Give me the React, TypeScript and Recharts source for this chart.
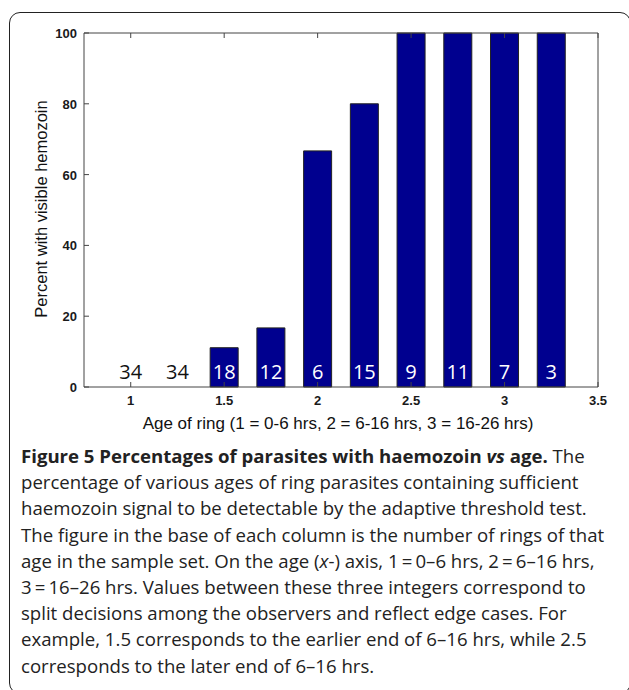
import React from "react";
import { ComposedChart, Bar, Line, XAxis, YAxis, LabelList } from "recharts";

const ages = [1, 1.25, 1.5, 1.75, 2, 2.25, 2.5, 2.75, 3, 3.25];
const percents = [0, 0, 11.1, 16.7, 66.7, 80, 100, 100, 100, 100];
const counts = [34, 34, 18, 12, 6, 15, 9, 11, 7, 3];
const xTicks = [1, 1.5, 2, 2.5, 3, 3.5];
const yTicks = [0, 20, 40, 60, 80, 100];

const data = ages.map((age, i) => ({ age, value: percents[i], n: counts[i] }));

const AXIS = "#444";
const BAR = "#00008f";
const TICK_FONT = { fontFamily: "'Liberation Sans', Arial, sans-serif", fontSize: 13, fontWeight: 700, fill: "#1a1a1a" };

const captionLines = [
  "percentage of various ages of ring parasites containing sufficient",
  "haemozoin signal to be detectable by the adaptive threshold test.",
  "The figure in the base of each column is the number of rings of that",
  null,
  "3\u2009=\u200916\u201326 hrs. Values between these three integers correspond to",
  "split decisions among the observers and reflect edge cases. For",
  "example, 1.5 corresponds to the earlier end of 6\u201316 hrs, while 2.5",
  "corresponds to the later end of 6\u201316 hrs.",
];

function BottomTick(props: any) {
  const { x, y, payload } = props;
  return (
    <g>
      <line x1={x} y1={y} x2={x} y2={y - 5} stroke={AXIS} />
      <text x={x} y={y + 18} textAnchor="middle" {...TICK_FONT}>
        {payload.value}
      </text>
    </g>
  );
}

function TopTick(props: any) {
  const { x, y } = props;
  return <line x1={x} y1={y} x2={x} y2={y + 5} stroke={AXIS} />;
}

function LeftTick(props: any) {
  const { x, y, payload } = props;
  return (
    <g>
      <line x1={x} y1={y} x2={x + 5} y2={y} stroke={AXIS} />
      <text x={x - 7} y={y + 5} textAnchor="end" {...TICK_FONT}>
        {payload.value}
      </text>
    </g>
  );
}

function RightTick(props: any) {
  const { x, y } = props;
  return <line x1={x} y1={y} x2={x - 5} y2={y} stroke={AXIS} />;
}

function CountLabel(props: any) {
  const { x, y, index, value } = props;
  const d = data[index];
  return (
    <text
      x={x}
      y={y - 8}
      textAnchor="middle"
      fontFamily="'Open Sans', sans-serif"
      fontSize={20}
      fill={d && d.value > 0 ? "#fff" : "#111"}
    >
      {value}
    </text>
  );
}

export default function App() {
  return (
    <div style={{ position: "absolute", left: 0, top: 0, width: 629, height: 690, background: "#fff", overflow: "hidden" }}>
      <div
        style={{
          position: "absolute",
          left: 9,
          top: 12,
          width: 622,
          height: 682,
          border: "1.5px solid #222",
          borderRadius: 11,
          boxSizing: "border-box",
        }}
      />
      <div style={{ position: "absolute", left: 0, top: 0 }}>
        <ComposedChart
          width={629}
          height={450}
          data={data}
          margin={{ top: 32, right: 30, left: 20, bottom: 13 }}
          barCategoryGap="20%"
        >
          <XAxis
            dataKey="age"
            type="number"
            domain={[0.75, 3.5]}
            ticks={xTicks}
            interval={0}
            height={50}
            tickSize={0}
            tickMargin={0}
            tickLine={false}
            axisLine={{ stroke: AXIS }}
            tick={<BottomTick />}
            allowDataOverflow
            label={() => (
              <text
                x={338}
                y={429}
                textAnchor="middle"
                fontFamily="'Liberation Sans', Arial, sans-serif"
                fontSize={17}
                fill="#111"
              >
                Age of ring (1 = 0-6 hrs, 2 = 6-16 hrs, 3 = 16-26 hrs)
              </text>
            )}
          />
          <XAxis
            xAxisId="top"
            orientation="top"
            dataKey="age"
            type="number"
            domain={[0.75, 3.5]}
            ticks={xTicks}
            interval={0}
            height={1}
            tickSize={0}
            tickMargin={0}
            tickLine={false}
            axisLine={{ stroke: AXIS }}
            tick={<TopTick />}
            allowDataOverflow
          />
          <YAxis
            type="number"
            domain={[0, 100]}
            ticks={yTicks}
            interval={0}
            width={64}
            tickSize={0}
            tickMargin={0}
            tickLine={false}
            axisLine={{ stroke: AXIS }}
            tick={<LeftTick />}
            label={() => (
              <text
                x={47}
                y={209}
                transform="rotate(-90 47 209)"
                textAnchor="middle"
                fontFamily="'Liberation Sans', Arial, sans-serif"
                fontSize={16.5}
                fill="#111"
              >
                Percent with visible hemozoin
              </text>
            )}
          />
          <YAxis
            yAxisId="right"
            orientation="right"
            type="number"
            domain={[0, 100]}
            ticks={yTicks}
            interval={0}
            width={1}
            tickSize={0}
            tickMargin={0}
            tickLine={false}
            axisLine={{ stroke: AXIS }}
            tick={<RightTick />}
          />
          <Bar dataKey="value" fill={BAR} stroke="#222" strokeWidth={1} isAnimationActive={false} />
          <Line
            dataKey={() => 0}
            stroke="none"
            dot={false}
            activeDot={false}
            isAnimationActive={false}
          >
            <LabelList dataKey="n" content={<CountLabel />} />
          </Line>
        </ComposedChart>
      </div>
      <div
        style={{
          position: "absolute",
          left: 21,
          top: 443,
          fontFamily: "'Open Sans', sans-serif",
          fontSize: 18.6,
          lineHeight: "26.2px",
          color: "#222",
          whiteSpace: "nowrap",
        }}
      >
        <div>
          <span style={{ fontWeight: 700 }}>
            Figure 5 Percentages of parasites with haemozoin <i>vs</i> age.
          </span>{" "}
          The
        </div>
        {captionLines.map((line, i) =>
          line === null ? (
            <div key={i}>
              age in the sample set. On the age (<i>x</i>-) axis, 1{"\u2009=\u2009"}0{"\u2013"}6 hrs, 2{"\u2009=\u2009"}6{"\u2013"}16 hrs,
            </div>
          ) : (
            <div key={i}>{line}</div>
          )
        )}
      </div>
    </div>
  );
}
